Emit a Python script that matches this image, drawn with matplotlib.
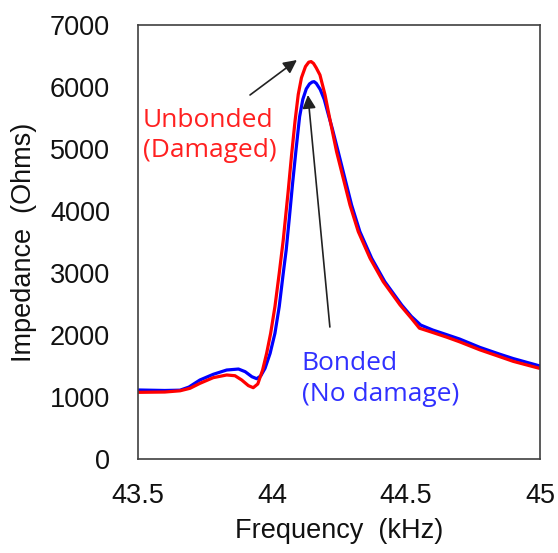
import matplotlib.pyplot as plt

# data (frequency in kHz, impedance in Ohms)
freq_bonded = [43.50, 43.60, 43.657, 43.69, 43.731, 43.781, 43.831, 43.875, 43.90,
               43.925, 43.943, 43.958, 43.974, 43.993, 44.011, 44.027, 44.042,
               44.053, 44.065, 44.077, 44.09, 44.103, 44.115, 44.128, 44.14,
               44.15, 44.157, 44.165, 44.18, 44.195, 44.21, 44.225, 44.247,
               44.272, 44.297, 44.328, 44.372, 44.421, 44.484, 44.52, 44.555,
               44.60, 44.652, 44.70, 44.776, 44.85, 44.90, 45.00]
imp_bonded = [1113, 1105, 1110, 1160, 1274, 1366, 1435, 1451, 1408,
              1327, 1295, 1340, 1462, 1704, 2027, 2457, 2995,
              3370, 3900, 4450, 5000, 5520, 5800, 5970, 6050,
              6080, 6086, 6060, 5960, 5800, 5560, 5330, 4957,
              4527, 4097, 3667, 3237, 2860, 2484, 2300, 2160,
              2080, 2005, 1935, 1800, 1690, 1620, 1500]

freq_unbonded = [43.50, 43.60, 43.657, 43.694, 43.731, 43.781, 43.831, 43.862,
                 43.887, 43.912, 43.93, 43.947, 43.965, 43.98, 43.995, 44.011,
                 44.027, 44.042, 44.06, 44.073, 44.086, 44.098, 44.11, 44.125,
                 44.137, 44.146, 44.155, 44.165, 44.179, 44.198, 44.216, 44.241,
                 44.266, 44.291, 44.322, 44.366, 44.415, 44.478, 44.52, 44.55,
                 44.60, 44.652, 44.70, 44.776, 44.85, 44.90, 45.00]
imp_unbonded = [1075, 1080, 1100, 1140, 1220, 1312, 1355, 1343,
                1274, 1183, 1150, 1210, 1435, 1704, 2027, 2457,
                2995, 3532, 4300, 4900, 5450, 5880, 6150, 6330,
                6400, 6410, 6380, 6310, 6194, 5871, 5480, 4957,
                4527, 4097, 3667, 3237, 2860, 2484, 2270, 2110,
                2040, 1965, 1890, 1760, 1650, 1575, 1460]

xticks = [43.5, 44, 44.5, 45]
xtick_labels = ['43.5', '44', '44.5', '45']
yticks = [0, 1000, 2000, 3000, 4000, 5000, 6000, 7000]

plt.rcParams['font.family'] = ['Liberation Sans', 'DejaVu Sans']

fig = plt.figure(figsize=(5.58, 5.53), dpi=100)
ax = fig.add_axes([0.2473, 0.17, 0.7204, 0.7848])

ax.plot(freq_bonded, imp_bonded, color='#0000ff', lw=2.3,
        solid_joinstyle='round', solid_capstyle='butt')
ax.plot(freq_unbonded, imp_unbonded, color='#ff0000', lw=2.3,
        solid_joinstyle='round', solid_capstyle='butt')

ax.set_xlim(43.5, 45)
ax.set_ylim(0, 7000)
ax.set_xticks(xticks)
ax.set_xticklabels(xtick_labels)
ax.set_yticks(yticks)
ax.tick_params(length=0, labelsize=19.5, colors='#111111')
ax.tick_params(axis='y', pad=20)
ax.tick_params(axis='x', pad=17)
for s in ax.spines.values():
    s.set_color('#404040')
    s.set_linewidth(1.2)

ax.set_xlabel('Frequency  (kHz)', fontsize=19.5, color='#111111', labelpad=7)
ax.set_ylabel('Impedance  (Ohms)', fontsize=19.5, color='#111111')
ax.yaxis.set_label_coords(-0.251, 0.5)

# annotations
ax.text(43.519, 5220, 'Unbonded\n(Damaged)', color='#ff2020', fontsize=19,
        family='Open Sans', ha='left', va='center', linespacing=1.3)
ax.text(44.111, 1290, 'Bonded\n(No damage)', color='#3030ff', fontsize=19,
        family='Open Sans', ha='left', va='center', linespacing=1.3)

ax.annotate('', xy=(44.093, 6435), xytext=(43.918, 5871),
            arrowprops=dict(arrowstyle='-|>', color='#222222', lw=1.2,
                            mutation_scale=20, shrinkA=0, shrinkB=0))
ax.annotate('', xy=(44.134, 5871), xytext=(44.216, 2129),
            arrowprops=dict(arrowstyle='-|>', color='#222222', lw=1.2,
                            mutation_scale=20, shrinkA=0, shrinkB=0))

fig.savefig('out.png', dpi=100)
